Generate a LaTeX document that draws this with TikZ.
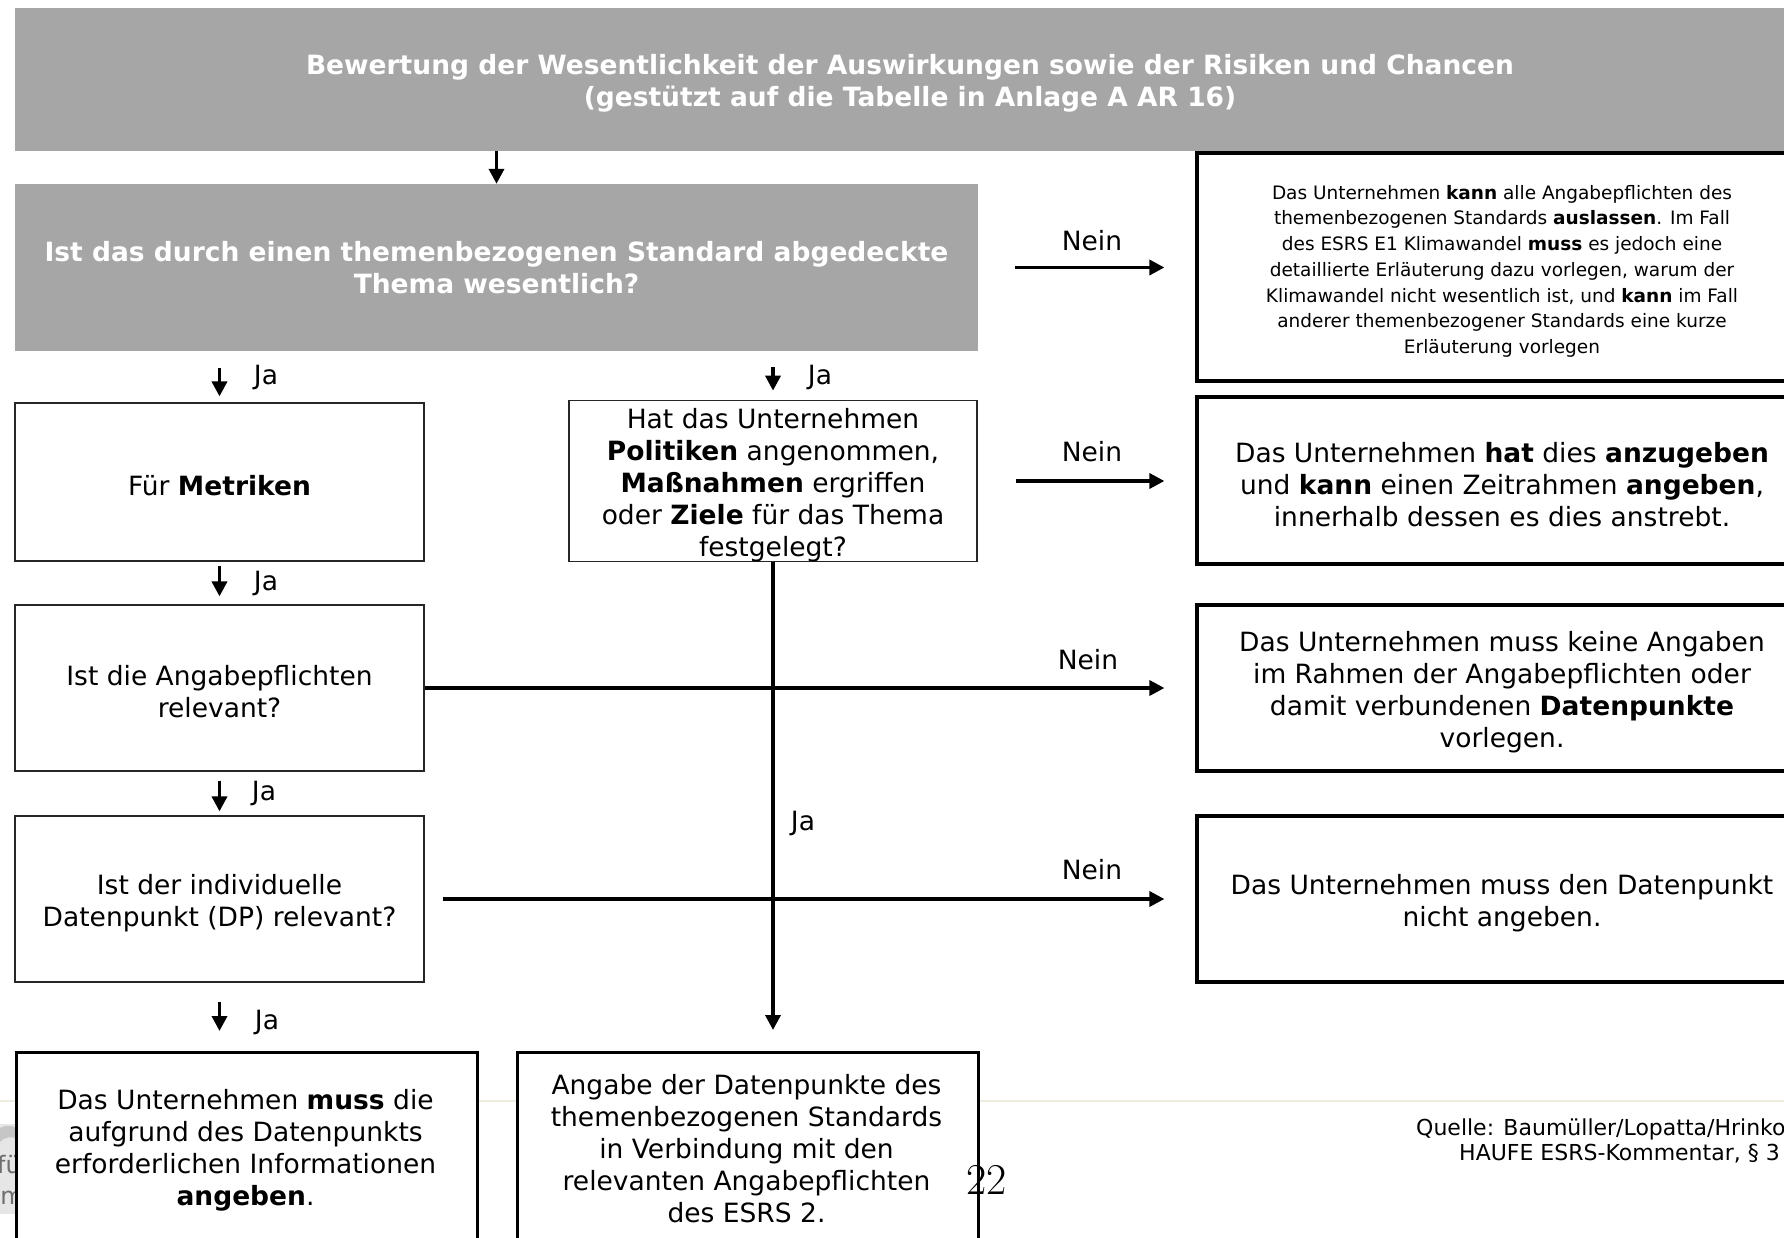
\documentclass[tikz,border=0pt]{standalone}
\usepackage{fontspec}
\newfontfamily\dejavu{DejaVu Sans}
\usetikzlibrary{arrows.meta}
\definecolor{boxgray}{HTML}{A6A6A6}
\definecolor{rulebeige}{HTML}{EEECE1}
\definecolor{thinedge}{HTML}{262626}
\definecolor{logogray}{HTML}{6E6E6E}
\definecolor{logofill}{HTML}{E6E6E6}
% extra height on a first line, so the lines sit a little lower in their box
\newcommand\lift{\rule{0pt}{28pt}}
\newcommand\smalllift{\rule{0pt}{22.5pt}}

\begin{document}
\begin{tikzpicture}[x=1pt,y=-1pt,
  every node/.style={font=\dejavu\fontsize{26.5}{32}\selectfont, align=center, inner sep=0pt},
  graybox/.style={fill=boxgray, text=white, font=\dejavu\bfseries\fontsize{26.5}{32}\selectfont},
  thinbox/.style={draw=thinedge, line width=1.2pt, fill=white},
  thickbox/.style={draw=black, line width=3.2pt, fill=white},
  smalltext/.style={font=\dejavu\fontsize{18.5}{25.7}\selectfont},
  sourcetext/.style={font=\dejavu\fontsize{22}{25}\selectfont, anchor=base west},
  logotext/.style={font=\dejavu\fontsize{24}{24}\selectfont, text=logogray, anchor=base east},
  arr/.style={line width=3.5pt, -{Triangle[length=15pt,width=15pt]}},
]
\useasboundingbox (0,0) rectangle (1784,1238);

% footer rule of the slide
\draw[rulebeige, line width=2pt] (0,1101) -- (1784,1101);

% slide logo, mostly hidden behind the lower left box
\fill[logofill] (0,1124) rectangle (20,1214);
\fill[gray!45] (0,1128) .. controls (8,1124) and (14,1126) .. (20,1130) -- (20,1140) .. controls (12,1136) and (6,1136) .. (0,1142) -- cycle;
\node[logotext] (logo1) at (21,1173) {fü};
\node[logotext] (logo2) at (24,1204) {m};

% header and first question
\node[graybox, minimum width=1790pt, minimum height=143pt] (head) at (910,79.5)
  {\lift Bewertung der Wesentlichkeit der Auswirkungen sowie der Risiken und Chancen\\(gestützt auf die Tabelle in Anlage A AR 16)};
\node[graybox, minimum width=963pt, minimum height=167pt] (topic) at (496.5,267.5)
  {Ist das durch einen themenbezogenen Standard abgedeckte\\Thema wesentlich?};

% left column
\node[thinbox, minimum width=409pt, minimum height=158pt] (metr) at (219.5,482) {\lift Für \textbf{Metriken}};
\node[thinbox, minimum width=409pt, minimum height=166pt] (disc) at (219.5,688) {\lift Ist die Angabepflichten\\relevant?};
\node[thinbox, minimum width=409pt, minimum height=166pt] (dp) at (219.5,899) {\lift Ist der individuelle\\Datenpunkt (DP) relevant?};

% middle column
\node[thinbox, minimum width=408pt, minimum height=158pt] (pol) at (773,481)
  {\lift Hat das Unternehmen\\\textbf{Politiken} angenommen,\\\textbf{Maßnahmen} ergriffen\\oder \textbf{Ziele} für das Thema\\festgelegt?};

% right column (outcomes for "Nein")
\node[thickbox, minimum width=610pt, minimum height=228pt, smalltext] (omit) at (1502,267)
  {\smalllift Das Unternehmen \textbf{kann} alle Angabepflichten des\\themenbezogenen Standards \textbf{auslassen}. Im Fall\\des ESRS E1 Klimawandel \textbf{muss} es jedoch eine\\detaillierte Erläuterung dazu vorlegen, warum der\\Klimawandel nicht wesentlich ist, und \textbf{kann} im Fall\\anderer themenbezogener Standards eine kurze\\Erläuterung vorlegen};
\node[thickbox, minimum width=610pt, minimum height=167pt] (state) at (1502,480.5)
  {\lift Das Unternehmen \textbf{hat} dies \textbf{anzugeben}\\und \textbf{kann} einen Zeitrahmen \textbf{angeben},\\innerhalb dessen es dies anstrebt.};
\node[thickbox, minimum width=610pt, minimum height=166pt] (none) at (1502,688)
  {\lift Das Unternehmen muss keine Angaben\\im Rahmen der Angabepflichten oder\\damit verbundenen \textbf{Datenpunkte}\\vorlegen.};
\node[thickbox, minimum width=610pt, minimum height=166pt] (nodp) at (1502,899)
  {\lift Das Unternehmen muss den Datenpunkt\\nicht angeben.};

% bottom outcomes (run past the lower edge)
\node[thickbox, anchor=north west, minimum width=461pt, minimum height=240pt] (must) at (15,1051) {};
\node (musttext) at (245.5,1150)
  {Das Unternehmen \textbf{muss} die\\aufgrund des Datenpunkts\\erforderlichen Informationen\\\textbf{angeben}.};
\node[thickbox, anchor=north west, minimum width=461pt, minimum height=240pt] (esrs) at (516,1051) {};
\node (esrstext) at (746.5,1149)
  {Angabe der Datenpunkte des\\themenbezogenen Standards\\in Verbindung mit den\\relevanten Angabepflichten\\des ESRS 2.};

% connectors
\draw[arr] (head.south -| topic.north) -- (topic.north);
\draw[arr, shorten <=17pt, shorten >=6pt] (metr.north |- topic.south) -- (metr.north);
\draw[arr, shorten <=16pt, shorten >=9pt] (pol.north |- topic.south) -- (pol.north);
\draw[arr, shorten <=4pt, shorten >=8pt] (metr.south) -- (disc.north);
\draw[arr, shorten <=9pt, shorten >=4pt] (disc.south) -- (dp.north);
\draw[arr, shorten <=19pt, shorten >=20pt] (dp.south) -- (dp.south |- must.north);
\draw[arr, shorten >=21pt] (pol.south) -- (pol.south |- esrs.north);

\draw[arr, shorten <=37pt, shorten >=31pt] (topic.east) -- (omit.west |- topic.east);
\draw[arr, shorten <=38pt, shorten >=31pt] (pol.east) -- (state.west |- pol.east);
\draw[arr, shorten >=31pt] (disc.east) -- (none.west);
\draw[arr, shorten <=18pt, shorten >=31pt] (dp.east) -- (nodp.west);

% branch labels
\node (ja1) at (266,377) {Ja};
\node (ja2) at (820,377) {Ja};
\node (ja3) at (266,583) {Ja};
\node (ja4) at (264,793) {Ja};
\node (ja5) at (803,823) {Ja};
\node (ja6) at (267,1022) {Ja};
\node (nein1) at (1092,241) {Nein};
\node (nein2) at (1092,452) {Nein};
\node (nein3) at (1088,660) {Nein};
\node (nein4) at (1092,870) {Nein};

% source and page number
\node[sourcetext] (src1) at (1416,1135) {Quelle: Baumüller/Lopatta/Hrinkow};
\node[sourcetext] (src2) at (1459,1160) {HAUFE ESRS-Kommentar, § 3};
\node[font=\rmfamily\fontsize{44}{44}\selectfont, anchor=base west] (page) at (966,1194) {22};
\end{tikzpicture}
\end{document}
